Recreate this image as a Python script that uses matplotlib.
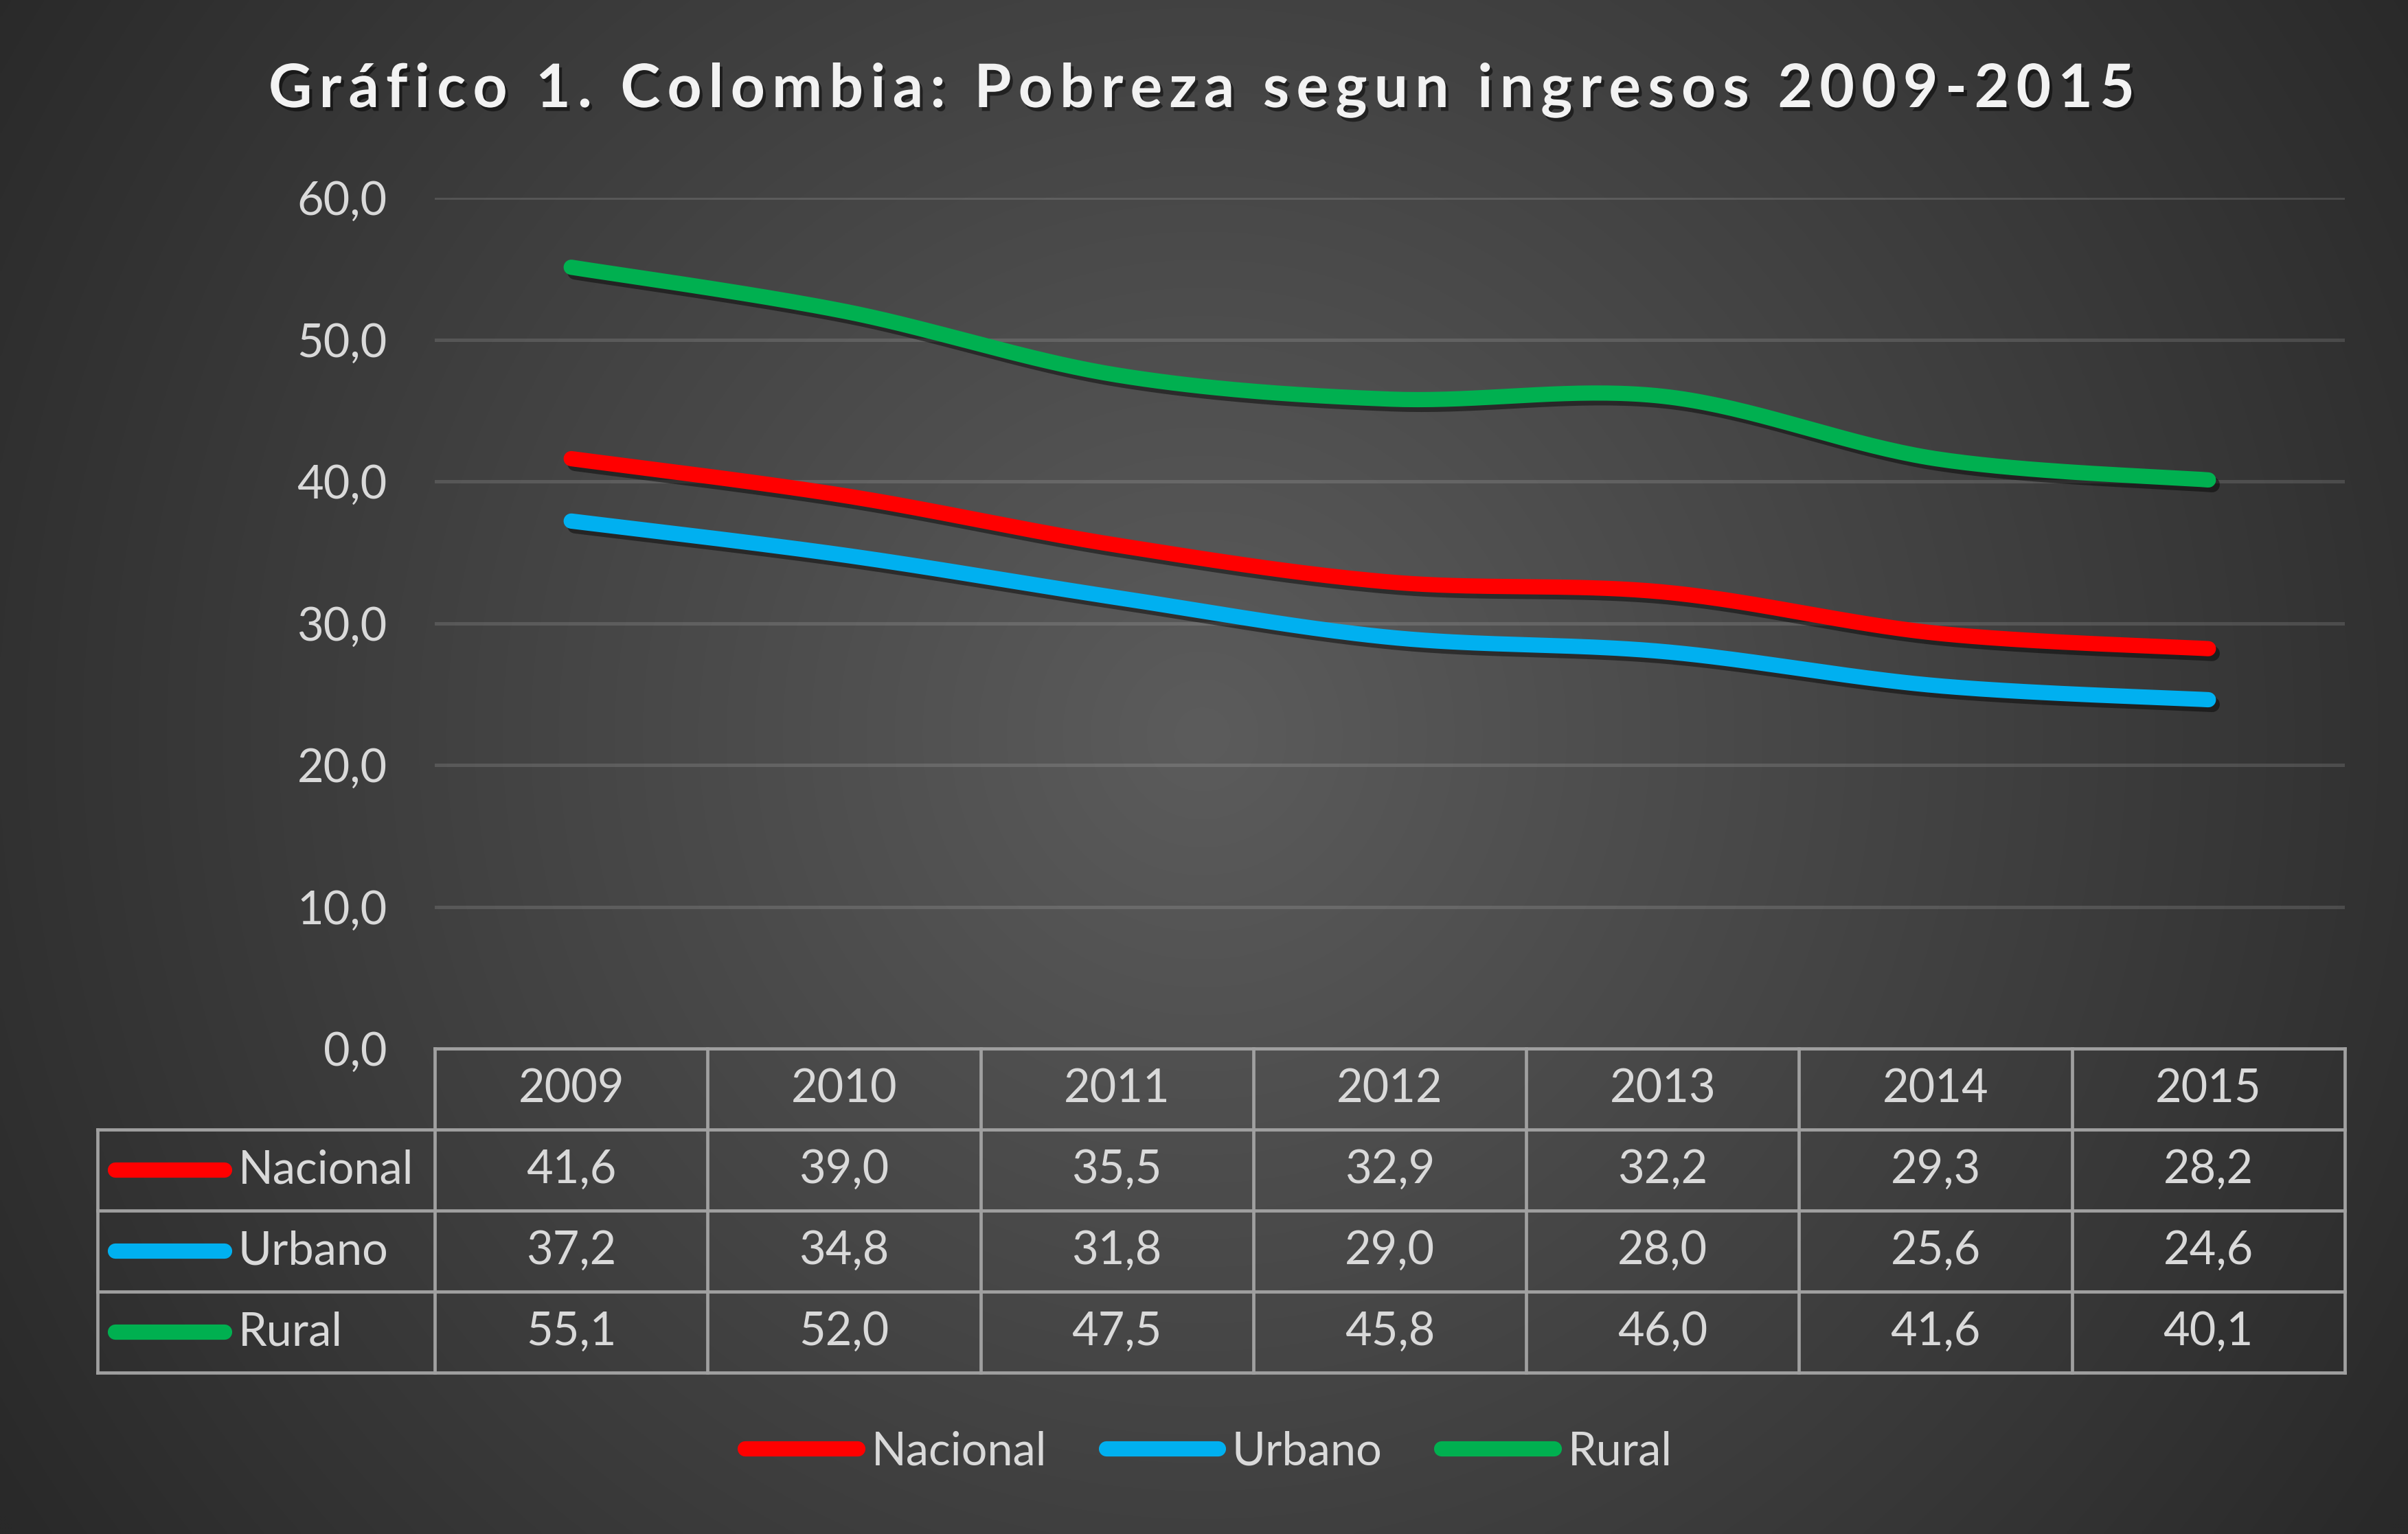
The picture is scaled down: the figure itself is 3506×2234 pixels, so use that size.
import numpy as np
import matplotlib
matplotlib.use("Agg")
import matplotlib.pyplot as plt
from matplotlib import patheffects as pe

plt.rcParams['font.family'] = ['Lato', 'DejaVu Sans']

# data
years = ['2009', '2010', '2011', '2012', '2013', '2014', '2015']
series_names = ['Nacional', 'Urbano', 'Rural']
nacional = [41.6, 39.0, 35.5, 32.9, 32.2, 29.3, 28.2]
urbano = [37.2, 34.8, 31.8, 29.0, 28.0, 25.6, 24.6]
rural = [55.1, 52.0, 47.5, 45.8, 46.0, 41.6, 40.1]
yticks = [0, 10, 20, 30, 40, 50, 60]
title = 'Gráfico 1. Colombia: Pobreza segun ingresos 2009-2015'

colors = ['#FF0000', '#00B0F0', '#00B050']
txt_col = '#d9d9d9'
border = '#a0a0a0'

W, H = 3506, 2234
fig = plt.figure(figsize=(W / 100, H / 100), dpi=100)


def fx(px):
    return px / W


def fy(py):
    return 1 - py / H


# radial gradient background
bg = fig.add_axes([0, 0, 1, 1], zorder=-10)
gx, gy = np.meshgrid(np.arange(0, W, 4), np.arange(0, H, 4))
d = np.sqrt((gx - 1750) ** 2 + (gy - 1070) ** 2) / 2080
v = (92 - 51 * np.clip(d, 0, 1)) / 255
bg.imshow(np.dstack([v, v, v]), aspect='auto', extent=[0, 1, 0, 1], interpolation='bilinear')
bg.axis('off')


def smooth(vals, n=40):
    # Catmull-Rom spline, the same as Excel's smoothed line
    y = np.array(vals, dtype=float)
    x = np.arange(len(y), dtype=float)
    px = np.concatenate([[x[0]], x, [x[-1]]])
    py = np.concatenate([[y[0]], y, [y[-1]]])
    xs, ys = [], []
    for i in range(1, len(px) - 2):
        t = np.linspace(0, 1, n)
        for arr, out in ((px, xs), (py, ys)):
            p0, p1, p2, p3 = arr[i - 1], arr[i], arr[i + 1], arr[i + 2]
            c1 = p1 + (p2 - p0) / 6
            c2 = p2 - (p3 - p1) / 6
            out.extend((1 - t) ** 3 * p1 + 3 * (1 - t) ** 2 * t * c1 + 3 * (1 - t) * t ** 2 * c2 + t ** 3 * p2)
    return np.array(xs), np.array(ys)


def fmt(v):
    return f'{v:.1f}'.replace('.', ',')


# main plot
x_left, x_right, y_top, y_bot = 633, 3414, 288, 1527
ax = fig.add_axes([fx(x_left), fy(y_bot), fx(x_right - x_left), (y_bot - y_top) / H])
ax.set_facecolor('none')
ax.set_xlim(-0.5, 6.5)
ax.set_ylim(0, 60)
for s in ax.spines.values():
    s.set_visible(False)
ax.set_xticks([])
ax.set_yticks(yticks)
ax.set_yticklabels([fmt(t) for t in yticks])
ax.tick_params(axis='y', length=0, pad=50, labelsize=48, labelcolor=txt_col)
for t in yticks[1:]:
    ax.axhline(t, color='white', alpha=0.13, lw=3.6, zorder=1)

shadow = [pe.SimpleLineShadow(offset=(4, -5), shadow_color='black', alpha=0.45), pe.Normal()]
lines = []
for vals, c, name in zip([nacional, urbano, rural], colors, series_names):
    sx, sy = smooth(vals)
    ln, = ax.plot(sx, sy, color=c, lw=16, solid_capstyle='round', label=name,
                  path_effects=shadow, zorder=3, clip_on=False)
    lines.append(ln)

# data table
t_left, t_top, t_bot = 142, 1527, 1999
col_w = (x_right - x_left) / 7
tl = -0.5 - (x_left - t_left) / col_w
axt = fig.add_axes([fx(t_left), fy(t_bot), fx(x_right - t_left), (t_bot - t_top) / H])
axt.set_facecolor('none')
axt.set_xlim(tl, 6.5)
axt.set_ylim(4, 0)
axt.axis('off')
lk = dict(color=border, lw=3.4, clip_on=False, solid_capstyle='projecting')
axt.plot([-0.5, 6.5], [0, 0], **lk)
for r in range(1, 5):
    axt.plot([tl, 6.5], [r, r], **lk)
for k in range(8):
    axt.plot([k - 0.5, k - 0.5], [0, 4], **lk)
axt.plot([tl, tl], [1, 4], **lk)

for i, yr in enumerate(years):
    axt.text(i, 0.5, yr, ha='center', va='center', fontsize=48, color=txt_col)
key_a = -0.5 - (x_left - 168) / col_w
key_b = -0.5 - (x_left - 327) / col_w
lab_x = -0.5 - (x_left - 347) / col_w
for r, (vals, c, name) in enumerate(zip([nacional, urbano, rural], colors, series_names), start=1):
    axt.plot([key_a, key_b], [r + 0.5, r + 0.5], color=c, lw=16, solid_capstyle='round', clip_on=False)
    axt.text(lab_x, r + 0.5, name, ha='left', va='center', fontsize=48, color=txt_col)
    for i, v in enumerate(vals):
        axt.text(i, r + 0.5, fmt(v), ha='center', va='center', fontsize=48, color=txt_col)

# bottom legend
leg = fig.legend(handles=lines, loc='center', bbox_to_anchor=(fx(1760), fy(2114)), ncol=3,
                 frameon=False, fontsize=48, handlelength=2.45, handletextpad=0.3,
                 columnspacing=1.3, labelcolor=txt_col)
for h in leg.get_lines():
    h.set_path_effects([])

# title with letter spacing, placed char by char
fig.canvas.draw()
renderer = fig.canvas.get_renderer()
tprops = dict(fontsize=63, fontweight='bold', color='#f2f2f2', va='baseline', ha='left',
              path_effects=[pe.withSimplePatchShadow(offset=(3, -4), shadow_rgbFace='black', alpha=0.5)])


def width(s):
    t = fig.text(0, 0, s, **tprops)
    w = t.get_window_extent(renderer).width
    t.remove()
    return w


space_w = width('x x') - width('xx')
widths = [space_w if ch == ' ' else width(ch) for ch in title]
target = 3108 - 391
gap = (target - sum(widths)) / (len(title) - 1)
xpos = 391
for ch, w in zip(title, widths):
    if ch != ' ':
        fig.text(fx(xpos), fy(156), ch, **tprops)
    xpos += w + gap

fig.savefig('out.png', dpi=100, facecolor='#2a2a2a')
